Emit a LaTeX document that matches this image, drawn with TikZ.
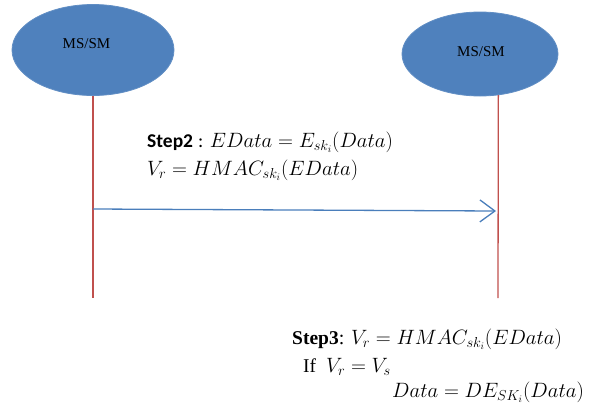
\documentclass[tikz,border=0pt]{standalone}
\usepackage{fontspec}
\setmainfont{Liberation Serif}
\newfontfamily\calibri{Carlito}
\usetikzlibrary{shapes.geometric,arrows.meta}
\definecolor{nodeblue}{HTML}{4F81BD}
\definecolor{lifered}{HTML}{C0504D}
\definecolor{msgblue}{HTML}{4A7EBB}
\tikzset{
  entity/.style={ellipse, fill=nodeblue, draw=nodeblue!90!white, line width=0.8pt, inner sep=0pt},
  entitytext/.style={font=\fontsize{15}{17}\selectfont, text=black, inner sep=0pt},
  lifeline/.style={draw=lifered, line width=1.3pt},
  message/.style={draw=msgblue, line width=1.3pt, -{Straight Barb[length=15pt, width=22pt, line width=1.3pt]}},
  eqtext/.style={inner sep=0pt, anchor=base west, font=\fontsize{20}{24}\selectfont},
}
\begin{document}
\begin{tikzpicture}[x=1pt, y=-1pt]
\useasboundingbox (0,0) rectangle (589,405);

% the two parties
\node[entity, minimum width=162pt, minimum height=91pt] (ms1) at (93,50) {};
\node[entity, minimum width=156pt, minimum height=84pt] (ms2) at (480,54) {};
\node[entitytext] (ms1t) at (86.5,44) {MS/SM};
\node[entitytext] (ms2t) at (481,52) {MS/SM};

% lifelines
\coordinate (end1) at (93,298);
\coordinate (end2) at (498,298);
\draw[lifeline] (ms1.south) -- (end1);
\draw[lifeline] (ms2.-66) -- (end2);

% message from sender to receiver
\coordinate (from) at (93,209);
\coordinate (to) at (496,211);
\draw[message] (from) -- (to);

% step 2, computed by the sender
\node[eqtext] (s2a) at (147,147) {{\calibri\bfseries\fontsize{19.5}{22}\selectfont Step2} {\calibri\fontsize{19.5}{22}\selectfont :} $EData = E_{sk_i}(Data)$};
\node[eqtext] (s2b) at (147,175) {$V_r = HMAC_{sk_i}(EData)$};

% step 3, checked by the receiver
\node[eqtext] (s3a) at (292,344) {{\bfseries\fontsize{19.5}{22}\selectfont Step3}: $V_r = HMAC_{sk_i}(EData)$};
\node[eqtext] (s3b) at (303,372) {{\fontsize{19.5}{22}\selectfont If}\ \ $V_r = V_s$};
\node[eqtext] (s3c) at (392,397) {$Data = DE_{SK_i}(Data)$};
\end{tikzpicture}
\end{document}
